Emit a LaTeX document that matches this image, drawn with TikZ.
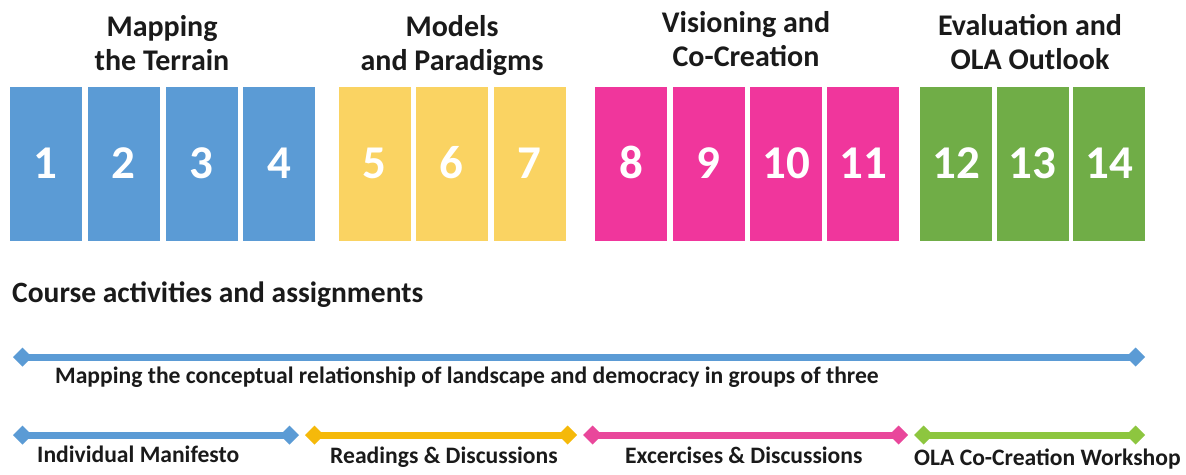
\documentclass[tikz,border=0pt]{standalone}
\usepackage{fontspec}
\setmainfont{Carlito}
\usetikzlibrary{arrows.meta}
\definecolor{cblue}{HTML}{5B9BD5}
\definecolor{cyellow}{HTML}{FAD362}
\definecolor{cpink}{HTML}{F0369C}
\definecolor{cgreen}{HTML}{70AD47}
\definecolor{lblue}{HTML}{5B9BD5}
\definecolor{lyellow}{HTML}{F5B90A}
\definecolor{lpink}{HTML}{E9479B}
\definecolor{lgreen}{HTML}{8DC63F}
\definecolor{ink}{HTML}{1A1A1A}
\tikzset{
  week/.style={minimum width=72pt, minimum height=154pt, inner sep=0pt, fill=#1},
  num/.style={text=white, anchor=base, inner sep=0pt, font=\fontsize{47}{52}\selectfont\bfseries},
  phase/.style={text=ink, anchor=base, inner sep=0pt, font=\fontsize{30}{34}\selectfont\bfseries},
  lbl/.style={text=ink, anchor=base west, inner sep=0pt, font=\fontsize{23.6}{28}\selectfont\bfseries},
  span/.style={line width=7pt, {Diamond[length=19pt,width=19pt]}-{Diamond[length=19pt,width=19pt]}}
}
\begin{document}
\begin{tikzpicture}[x=1pt,y=-1pt]
\useasboundingbox (0,0) rectangle (1186,474);
% week boxes
\node[week=cblue] (w1) at (45.5,164) {};
\node[week=cblue] (w2) at (123.5,164) {};
\node[week=cblue] (w3) at (201.5,164) {};
\node[week=cblue] (w4) at (279,164) {};
\node[week=cyellow] (w5) at (374.5,164) {};
\node[week=cyellow] (w6) at (451.5,164) {};
\node[week=cyellow] (w7) at (529.5,164) {};
\node[week=cpink] (w8) at (631,164) {};
\node[week=cpink] (w9) at (708.5,164) {};
\node[week=cpink] (w10) at (786,164) {};
\node[week=cpink] (w11) at (863,164) {};
\node[week=cgreen] (w12) at (956,164) {};
\node[week=cgreen] (w13) at (1032.5,164) {};
\node[week=cgreen] (w14) at (1109,164) {};
\foreach \i in {1,...,14} {\node[num] (n\i) at ([yshift=-14pt]w\i.center) {\i};}
% phase titles
\node[phase] (p1a) at (162,36) {Mapping};
\node[phase] (p1b) at (162,70) {the Terrain};
\node[phase] (p2a) at (452,36) {Models};
\node[phase] (p2b) at (452,70) {and Paradigms};
\node[phase] (p3a) at (746,32) {Visioning and};
\node[phase] (p3b) at (746,66) {Co-Creation};
\node[phase] (p4a) at (1030,35) {Evaluation and};
\node[phase] (p4b) at (1030,69) {OLA Outlook};
% section heading
\node[text=ink, font=\fontsize{29.5}{34}\selectfont\bfseries, anchor=base west, inner sep=0pt] (head) at (12,302) {Course activities and assignments};
% spans
\coordinate (a1) at (13,357);
\coordinate (a2) at (1145,357);
\draw[span, lblue] (a1) -- (a2);
\node[lbl] (t1) at (55,383) {Mapping the conceptual relationship of landscape and democracy in groups of three};
\coordinate (b1) at (13,435);
\coordinate (b2) at (299,435);
\coordinate (c1) at (305,435);
\coordinate (c2) at (577,435);
\coordinate (d1) at (583,435);
\coordinate (d2) at (908,435);
\coordinate (e1) at (914,435);
\coordinate (e2) at (1145,435);
\draw[span, lblue] (b1) -- (b2);
\draw[span, lyellow] (c1) -- (c2);
\draw[span, lpink] (d1) -- (d2);
\draw[span, lgreen] (e1) -- (e2);
\node[lbl] (t2) at (37,462) {Individual Manifesto};
\node[lbl] (t3) at (330,463) {Readings \& Discussions};
\node[lbl] (t4) at (625,463) {Excercises \& Discussions};
\node[lbl] (t5) at (914,465) {OLA Co-Creation Workshop};
\end{tikzpicture}
\end{document}
